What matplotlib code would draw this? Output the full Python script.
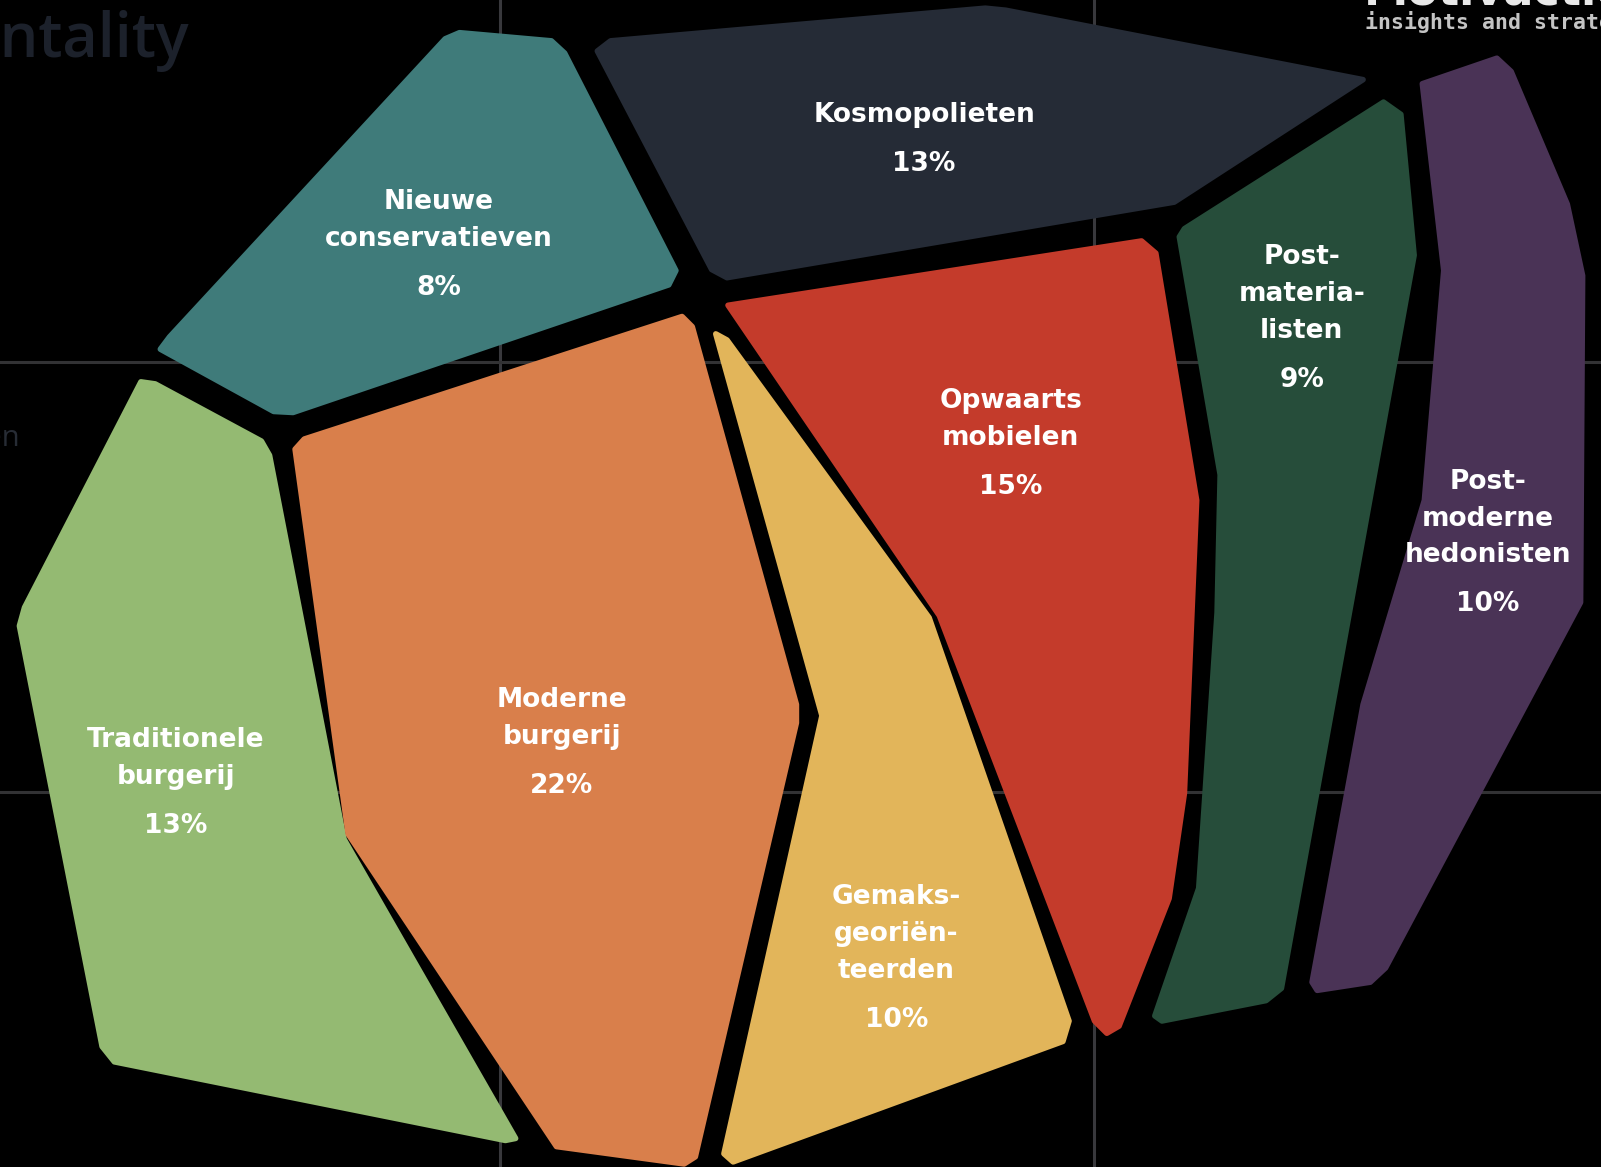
import matplotlib
matplotlib.use("Agg")
import matplotlib.pyplot as plt
from matplotlib.patches import Polygon

# segments of the mentality model
segments = ["Kosmopolieten", "Nieuwe conservatieven", "Post-materialisten",
            "Opwaarts mobielen", "Post-moderne hedonisten", "Traditionele burgerij",
            "Moderne burgerij", "Gemaksgeoriënteerden"]
shares = [13, 8, 9, 15, 10, 13, 22, 10]
label_lines = [["Kosmopolieten"],
               ["Nieuwe", "conservatieven"],
               ["Post-", "materia-", "listen"],
               ["Opwaarts", "mobielen"],
               ["Post-", "moderne", "hedonisten"],
               ["Traditionele", "burgerij"],
               ["Moderne", "burgerij"],
               ["Gemaks-", "georiën-", "teerden"]]
colors = ["#252b36", "#3f7b7a", "#264d3a", "#c43b2b",
          "#4a3356", "#94ba72", "#d97f4b", "#e2b55a"]

# outlines of the blobs (picture coordinates, y pointing down)
outlines = {
    "Kosmopolieten": [(585, 50), (598, 40), (965, 8), (985, 10), (1335, 78),
                      (1150, 198), (712, 272), (697, 264)],
    "Nieuwe conservatieven": [(157, 342), (166, 330), (436, 38), (450, 32), (540, 40),
                              (553, 52), (662, 265), (655, 279), (287, 404), (268, 403)],
    "Post-materialisten": [(1155, 232), (1160, 224), (1355, 100), (1372, 112), (1385, 250),
                           (1255, 968), (1240, 980), (1138, 1000), (1131, 995),
                           (1174, 870), (1192, 600), (1195, 465)],
    "Opwaarts mobielen": [(713, 299), (1118, 236), (1132, 248), (1172, 490),
                          (1160, 777), (1145, 880), (1096, 1005), (1084, 1012),
                          (1072, 1000), (920, 603)],
    "Post-moderne hedonisten": [(1393, 82), (1466, 57), (1480, 70), (1535, 200),
                                (1550, 270), (1548, 590), (1357, 948), (1342, 962),
                                (1290, 970), (1285, 962), (1335, 690), (1395, 490), (1414, 265)],
    "Traditionele burgerij": [(138, 374), (152, 376), (256, 432), (264, 446),
                              (337, 822), (505, 1115), (495, 1117), (112, 1040),
                              (100, 1025), (19, 613), (24, 595)],
    "Moderne burgerij": [(289, 440), (298, 430), (668, 310), (678, 320), (780, 690),
                         (780, 708), (681, 1133), (670, 1140), (545, 1123), (341, 817)],
    "Gemaksgeoriënteerden": [(701, 327), (712, 333), (910, 605), (1047, 1000),
                             (1041, 1020), (718, 1138), (709, 1130), (805, 701)],
}
# label anchors (first line)
label_pos = {
    "Kosmopolieten": (905, 113),
    "Nieuwe conservatieven": (430, 198),
    "Post-materialisten": (1275, 252),
    "Opwaarts mobielen": (990, 393),
    "Post-moderne hedonisten": (1457, 472),
    "Traditionele burgerij": (172, 725),
    "Moderne burgerij": (550, 686),
    "Gemaksgeoriënteerden": (878, 879),
}

grid_x = [490, 1071]
grid_y = [355, 776]

fig = plt.figure(figsize=(16.01, 11.67), dpi=100, facecolor="black")
ax = fig.add_axes([0, 0, 1, 1])
ax.set_facecolor("black")
ax.set_xlim(0, 1568)
ax.set_ylim(1143, 0)
ax.axis("off")

for gx in grid_x:
    ax.axvline(gx, color="#38383c", lw=2.2, zorder=0)
for gy in grid_y:
    ax.axhline(gy, color="#323234", lw=2.2, zorder=0)

# header / axis texts, partly cut by the figure edge as in the original
ax.text(185, 56, "Mentality", ha="right", va="baseline", fontsize=44,
        color="#1c212b", fontweight="semibold", family="Open Sans")
ax.text(19, 437, "Midden", ha="right", va="baseline", fontsize=21,
        color="#272c35", family="Open Sans")
ax.text(1336, 4, "Motivaction", ha="left", va="baseline", fontsize=32,
        color="#e8e8e8", fontweight="bold", family="DejaVu Sans")
ax.text(1337, 28, "insights and strategy", ha="left", va="baseline", fontsize=15.5,
        color="#c4c4c4", fontweight="bold", family="DejaVu Sans Mono")

for name, share, lines, col in zip(segments, shares, label_lines, colors):
    poly = Polygon(outlines[name], closed=True, facecolor=col, edgecolor=col,
                   lw=4, joinstyle="round", zorder=2)
    ax.add_patch(poly)
    x0, y0 = label_pos[name]
    for i, ln in enumerate(lines):
        ax.text(x0, y0 + i * 36, ln, ha="center", va="center", fontsize=19,
                color="white", fontweight="bold", family="DejaVu Sans", zorder=3)
    ax.text(x0, y0 + (len(lines) - 1) * 36 + 48, f"{share}%", ha="center", va="center",
            fontsize=19, color="white", fontweight="bold", family="DejaVu Sans", zorder=3)

fig.savefig("out.png", dpi=100, facecolor="black")
